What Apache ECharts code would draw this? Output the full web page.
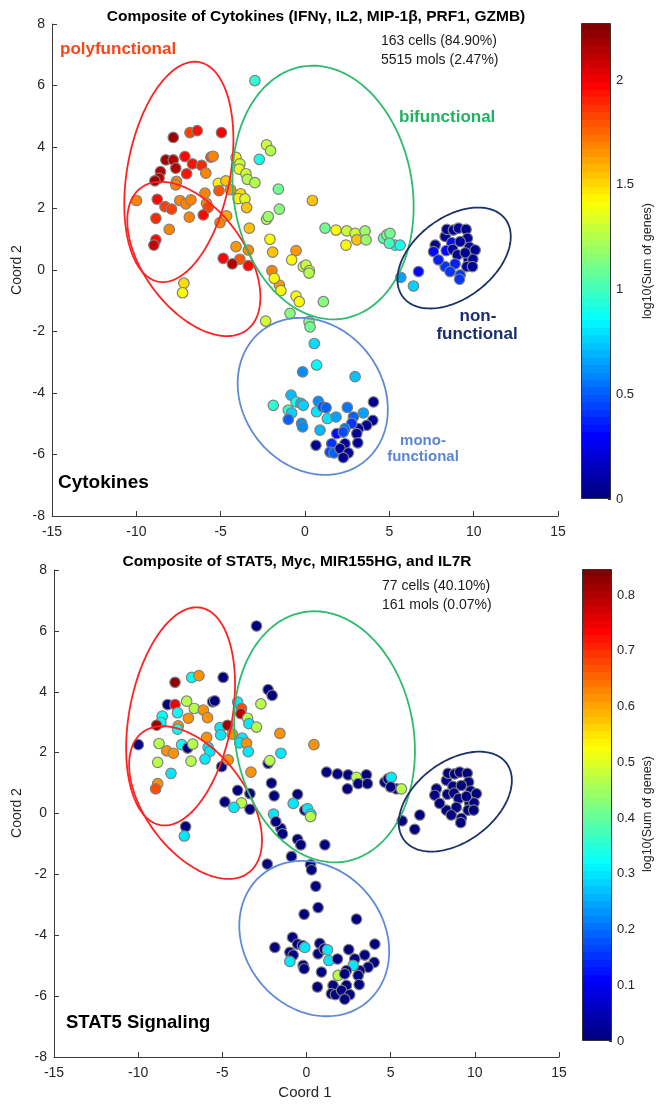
<!DOCTYPE html>
<html>
<head>
<meta charset="utf-8">
<script src="https://cdn.jsdelivr.net/npm/echarts@6/dist/echarts.min.js"></script>
<style>
html,body{margin:0;padding:0;background:#fff;}
#chart{width:668px;height:1105px;}
</style>
</head>
<body>
<div id="chart"></div>
<script>
// ---- cell coordinates (Coord 1, Coord 2), same cells in both panels ----
const xs = [
 -2.97,-7.81,-6.82,-6.39,-4.95,-8.25,-7.81,-7.12,-6.67,-6.13,
 -5.58,-5.45,-7.66,-8.57,-8.65,-8.90,-7.02,-5.88,-7.62,-7.66,
 -9.99,-8.76,-8.30,-7.91,-7.42,-7.06,-6.76,-5.93,-5.84,-5.74,
 -8.84,-6.86,-6.03,-8.05,-8.84,-8.96,-5.14,-4.69,-5.10,-4.41,
 -5.04,-4.65,-4.09,-3.86,-3.90,-3.50,-3.42,-2.97,-3.82,-3.96,
 -3.56,-3.46,-3.30,-2.71,-2.28,-2.04,-1.58,-1.52,-2.28,-2.18,
 -2.08,-1.92,0.44,1.19,1.84,-0.53,-0.79,-0.10,0.06,0.26,
 0.24,-4.09,-3.86,-3.36,-4.85,-4.31,-3.36,-1.96,
 2.47,2.43,2.97,3.07,3.56,3.62,4.65,4.85,5.04,5.34,5.64,5.00,
 7.72,8.31,8.41,8.80,9.10,9.55,9.63,8.70,9.20,7.62,
 8.37,8.76,9.75,10.09,9.04,9.69,9.95,8.31,8.90,9.60,
 9.93,6.73,5.68,6.43,8.60,9.20,9.16,7.91,9.50,
 -1.52,-1.82,-1.43,-0.53,-0.34,1.09,-0.89,-2.33,0.24,0.30,
 -7.18,-7.26,
 0.55,0.69,-0.14,2.97,-0.83,-1.88,-0.99,-0.79,-0.53,-0.24,
 -0.10,-0.99,-0.20,-0.14,0.79,0.69,1.05,1.25,1.33,1.84,
 0.89,2.51,2.87,3.46,4.06,4.02,3.66,3.17,2.77,2.37,
 1.88,2.27,3.07,3.13,0.65,1.58,1.48,1.72,2.37,2.08,
 2.57,2.27
];
const ys = [
 6.16,4.31,4.47,4.53,4.47,3.58,3.58,3.69,3.45,3.40,
 3.67,3.70,3.31,3.20,2.99,2.90,3.13,3.15,2.88,2.77,
 2.26,2.30,2.06,1.98,2.26,2.15,2.28,2.50,2.17,2.04,
 1.68,1.72,1.79,1.32,0.98,0.81,2.82,2.90,2.58,2.61,
 1.54,1.76,3.66,3.45,3.28,3.13,2.95,2.84,2.48,2.32,
 2.31,2.03,1.36,3.60,4.07,3.88,2.63,1.98,1.65,1.74,
 1.00,0.58,2.26,1.36,1.30,0.63,0.33,0.11,0.16,-0.02,
 -0.10,0.76,0.35,0.65,0.38,0.20,0.14,-0.02,
 1.27,0.81,1.19,0.98,1.27,0.98,1.03,1.14,1.19,0.81,0.81,0.87,
 0.81,1.09,1.32,1.30,1.36,1.32,1.03,0.89,0.92,0.60,
 0.63,0.67,0.74,0.65,0.49,0.35,0.35,0.11,0.20,0.11,
 0.11,-0.05,-0.24,-0.52,-0.05,-0.16,-0.30,0.33,0.56,
 -0.49,-0.27,-0.67,-0.85,-1.03,-1.03,-1.41,-1.66,-1.68,-1.85,
 -0.43,-0.74,
 -2.39,-3.09,-3.31,-3.47,-4.07,-4.40,-4.56,-4.65,-4.29,-4.34,
 -4.40,-4.86,-4.99,-5.10,-4.27,-4.61,-4.45,-4.48,-4.83,-4.78,
 -5.21,-4.47,-4.78,-4.65,-4.29,-4.89,-5.05,-5.16,-4.99,-5.16,
 -5.32,-5.27,-5.32,-5.62,-5.70,-5.65,-5.92,-5.95,-5.65,-5.81,
 -5.95,-6.10
];
// ---- log10(Sum of genes), Cytokines composite ----
const cytokineValues = [
 0.95,2.20,1.85,1.95,2.00,2.20,2.15,1.98,1.95,1.90,
 1.85,1.70,2.15,2.15,2.15,2.20,1.95,1.70,1.70,1.70,
 1.70,1.97,1.85,1.85,1.70,1.70,1.70,1.70,1.70,1.85,
 1.90,1.70,1.98,1.70,1.98,2.10,1.45,1.55,1.80,1.65,
 1.70,1.62,1.45,1.30,1.35,1.30,1.25,1.25,1.50,1.45,
 1.35,1.55,1.55,0.90,1.30,1.25,1.10,1.15,1.25,1.20,
 1.42,1.55,1.55,1.10,1.42,1.65,1.42,1.30,1.30,1.30,
 1.25,1.65,1.80,1.68,1.98,2.15,1.98,1.70,
 1.30,1.42,1.30,1.55,1.20,1.20,1.05,1.10,1.10,0.88,0.90,1.00,
 0.05,0.05,0.05,0.05,0.05,0.05,0.05,0.30,0.05,0.30,
 0.30,0.05,0.05,0.05,0.05,0.05,0.05,0.40,0.35,0.05,
 0.05,0.30,0.65,0.75,0.40,0.40,0.40,0.35,0.05,
 1.65,1.42,1.42,1.42,1.42,1.15,1.15,1.32,1.15,1.10,
 1.50,1.42,
 0.78,0.85,0.60,0.72,0.70,0.95,0.95,0.75,0.90,0.70,
 0.75,0.50,0.60,0.60,0.60,0.80,0.45,0.50,0.80,0.65,
 0.70,0.55,0.50,0.65,0.05,0.05,0.05,0.05,0.40,0.55,
 0.30,0.45,0.05,0.05,0.05,0.40,0.45,0.50,0.05,0.05,
 0.05,0.05
];
// ---- log10(Sum of genes), STAT5 signaling composite ----
const stat5Values = [
 0.00,0.83,0.32,0.62,0.00,0.00,0.75,0.47,0.47,0.62,
 0.00,0.00,0.32,0.32,0.32,0.82,0.62,0.62,0.62,0.32,
 0.00,0.47,0.62,0.62,0.32,0.00,0.47,0.62,0.30,0.30,
 0.47,0.47,0.30,0.30,0.62,0.68,0.30,0.82,0.30,0.62,
 0.00,0.62,0.30,0.68,0.80,0.47,0.30,0.47,0.30,0.30,
 0.62,0.30,0.62,0.47,0.00,0.00,0.62,0.30,0.00,0.47,
 0.00,0.00,0.62,0.00,0.00,0.00,0.30,0.00,0.30,0.30,
 0.47,0.00,0.47,0.00,0.00,0.30,0.00,0.30,
 0.00,0.00,0.47,0.00,0.00,0.00,0.00,0.00,0.30,0.00,0.47,0.00,
 0,0,0,0,0,0,0,0,0,0,
 0,0,0,0,0,0,0,0,0,0,
 0,0,0,0,0,0,0,0,0,
 0,0,0,0,0,0,0,0,0,0,
 0.00,0.30,
 0,0,0,0,0,0,0,0,0,0,
 0.30,0.30,0,0,0,0,0,0.30,0.30,0,
 0,0,0,0,0,0,0,0,0.30,0,
 0.47,0,0,0,0,0,0,0,0,0,
 0,0
];
// ---- colorbar ranges and ticks ----
const colorbarMax = [2.272, 0.847];
const colorbarStep = [0.5, 0.1];
// ---- cluster ellipses: centre, two conjugate half-axes (data units) ----
const ellipseCenters = [[-7.48,3.19],[-6.59,0.36],[1.07,2.52],[8.84,0.39],[0.46,-4.11]];
const ellipseAxisU   = [[1.21,3.57],[3.14,-2.31],[1.18,-4.10],[3.03,1.27],[3.01,-2.14]];
const ellipseAxisV   = [[3.00,-0.31],[-2.39,-0.98],[-5.24,-0.45],[1.45,-1.04],[-3.28,-1.39]];
const ellipseColors  = ['#ff2222','#ff2222','#2dbb6c','#1b3168','#5f8ad6'];

function jetColor(t){
  const c = v => Math.round(255*Math.max(0,Math.min(1,v)));
  return 'rgb('+c(1.5-Math.abs(4*t-3))+','+c(1.5-Math.abs(4*t-2))+','+c(1.5-Math.abs(4*t-1))+')';
}
const jet64 = []; for(let i=0;i<64;i++) jet64.push(jetColor(i/63));
const jetStops = []; for(let i=0;i<64;i++){ jetStops.push({offset:i/64,color:jet64[i]}); jetStops.push({offset:(i+1)/64,color:jet64[i]}); }

const chart = echarts.init(document.getElementById('chart'), null, {renderer:'canvas'});
const FONT = '"Liberation Sans", Arial, Helvetica, sans-serif';
const axisCol = '#3a3a3a';

const grids = [
  {left:52, top:24, width:506, height:492},
  {left:54, top:570, width:505, height:487},
  {left:581, top:23, width:30, height:476},
  {left:582, top:569, width:30, height:472}
];
function mainX(gi){return {type:'value',gridIndex:gi,min:-15,max:15,interval:5,
  axisLine:{show:true,onZero:false,lineStyle:{color:axisCol,width:1}},
  axisTick:{show:true,inside:true,length:5,lineStyle:{color:axisCol}},
  axisLabel:{fontFamily:FONT,fontSize:14,color:'#262626',margin:9},
  splitLine:{show:false}};}
function mainY(gi){return {type:'value',gridIndex:gi,min:-8,max:8,interval:2,
  axisLine:{show:true,onZero:false,lineStyle:{color:axisCol,width:1}},
  axisTick:{show:true,inside:true,length:5,lineStyle:{color:axisCol}},
  axisLabel:{fontFamily:FONT,fontSize:14,color:'#262626',margin:7},
  splitLine:{show:false}};}
function cbX(gi){return {type:'category',gridIndex:gi,data:['cb'],show:false};}
function cbY(gi,k){return {type:'value',gridIndex:gi,min:0,max:colorbarMax[k],interval:colorbarStep[k],position:'right',
  axisLine:{show:false},
  axisTick:{show:true,inside:true,length:3,lineStyle:{color:'#262626'}},
  axisLabel:{fontFamily:FONT,fontSize:13,color:'#262626',margin:5,showMaxLabel:false,
     formatter:v=>String(Math.round(v*10)/10)},
  splitLine:{show:false}};}

function scatterSeries(k, vals){
  return {type:'scatter',xAxisIndex:k,yAxisIndex:k,z:2,
    data: xs.map((x,i)=>[x,ys[i],vals[i]]),
    symbol:'circle',symbolSize:10.5,
    itemStyle:{borderColor:'#808080',borderWidth:1.2,opacity:1}};
}
function ellipseSeries(k){
  return {type:'custom',xAxisIndex:k,yAxisIndex:k,z:3,clip:false,silent:true,
    data: ellipseCenters.map(c=>[c[0],c[1]]),
    renderItem:(params,api)=>{
      const i = params.dataIndex, c = ellipseCenters[i], u = ellipseAxisU[i], v = ellipseAxisV[i];
      const pts=[];
      for(let s=0;s<=180;s++){const t=s/180*2*Math.PI;
        pts.push(api.coord([c[0]+u[0]*Math.cos(t)+v[0]*Math.sin(t), c[1]+u[1]*Math.cos(t)+v[1]*Math.sin(t)]));}
      return {type:'polygon',shape:{points:pts},style:{fill:'none',stroke:ellipseColors[i],lineWidth:1.8}};
    }};
}
function cbSeries(k){
  return {type:'bar',xAxisIndex:k+2,yAxisIndex:k+2,barWidth:'100%',silent:true,
    data:[colorbarMax[k]],
    itemStyle:{color:new echarts.graphic.LinearGradient(0,1,0,0,jetStops),borderColor:'#333',borderWidth:1}};
}
function txt(x,y,text,size,opts){
  opts=opts||{};
  return {type:'text',x:x,y:y,rotation:opts.rot||0,z:10,silent:true,
    style:{text:text,fontFamily:FONT,fontSize:size,fontWeight:opts.bold?'bold':'normal',
      fill:opts.color||'#000',align:opts.align||'left',verticalAlign:'middle'}};
}

const option = {
  animation:false,
  backgroundColor:'#fff',
  grid:grids,
  xAxis:[mainX(0),mainX(1),cbX(2),cbX(3)],
  yAxis:[mainY(0),mainY(1),cbY(2,0),cbY(3,1)],
  visualMap:[
    {type:'continuous',show:false,seriesIndex:0,dimension:2,min:0,max:colorbarMax[0],inRange:{color:jet64}},
    {type:'continuous',show:false,seriesIndex:1,dimension:2,min:0,max:colorbarMax[1],inRange:{color:jet64}}
  ],
  series:[scatterSeries(0,cytokineValues),scatterSeries(1,stat5Values),ellipseSeries(0),ellipseSeries(1),cbSeries(0),cbSeries(1)],
  graphic:[
    txt(316,17,'Composite of Cytokines (IFNγ, IL2, MIP-1β, PRF1, GZMB)',15.5,{bold:true,align:'center'}),
    txt(381,41,'163 cells (84.90%)',14,{color:'#1a1a1a'}),
    txt(381,60,'5515 mols (2.47%)',14,{color:'#1a1a1a'}),
    txt(60,49,'polyfunctional',17,{bold:true,color:'#f8461a'}),
    txt(399,117,'bifunctional',17,{bold:true,color:'#1fb35f'}),
    txt(478,316,'non-',17,{bold:true,color:'#1a2d6b',align:'center'}),
    txt(477,334,'functional',17,{bold:true,color:'#1a2d6b',align:'center'}),
    txt(423,441,'mono-',15,{bold:true,color:'#5b86d3',align:'center'}),
    txt(423,457,'functional',15,{bold:true,color:'#5b86d3',align:'center'}),
    txt(58,483,'Cytokines',19,{bold:true}),
    txt(17.5,270,'Coord 2',14,{align:'center',rot:Math.PI/2,color:'#262626'}),
    txt(648,261,'log10(Sum of genes)',12.5,{align:'center',rot:Math.PI/2,color:'#262626'}),
    txt(297,561.5,'Composite of STAT5, Myc, MIR155HG, and IL7R',15.5,{bold:true,align:'center'}),
    txt(382,586,'77 cells (40.10%)',14,{color:'#1a1a1a'}),
    txt(382,605,'161 mols (0.07%)',14,{color:'#1a1a1a'}),
    txt(66,1023,'STAT5 Signaling',18.5,{bold:true}),
    txt(17.5,813,'Coord 2',14,{align:'center',rot:Math.PI/2,color:'#262626'}),
    txt(305,1093,'Coord 1',15,{align:'center',color:'#262626'}),
    txt(648,814,'log10(Sum of genes)',12.5,{align:'center',rot:Math.PI/2,color:'#262626'})
  ]
};
chart.setOption(option);
</script>
</body>
</html>
